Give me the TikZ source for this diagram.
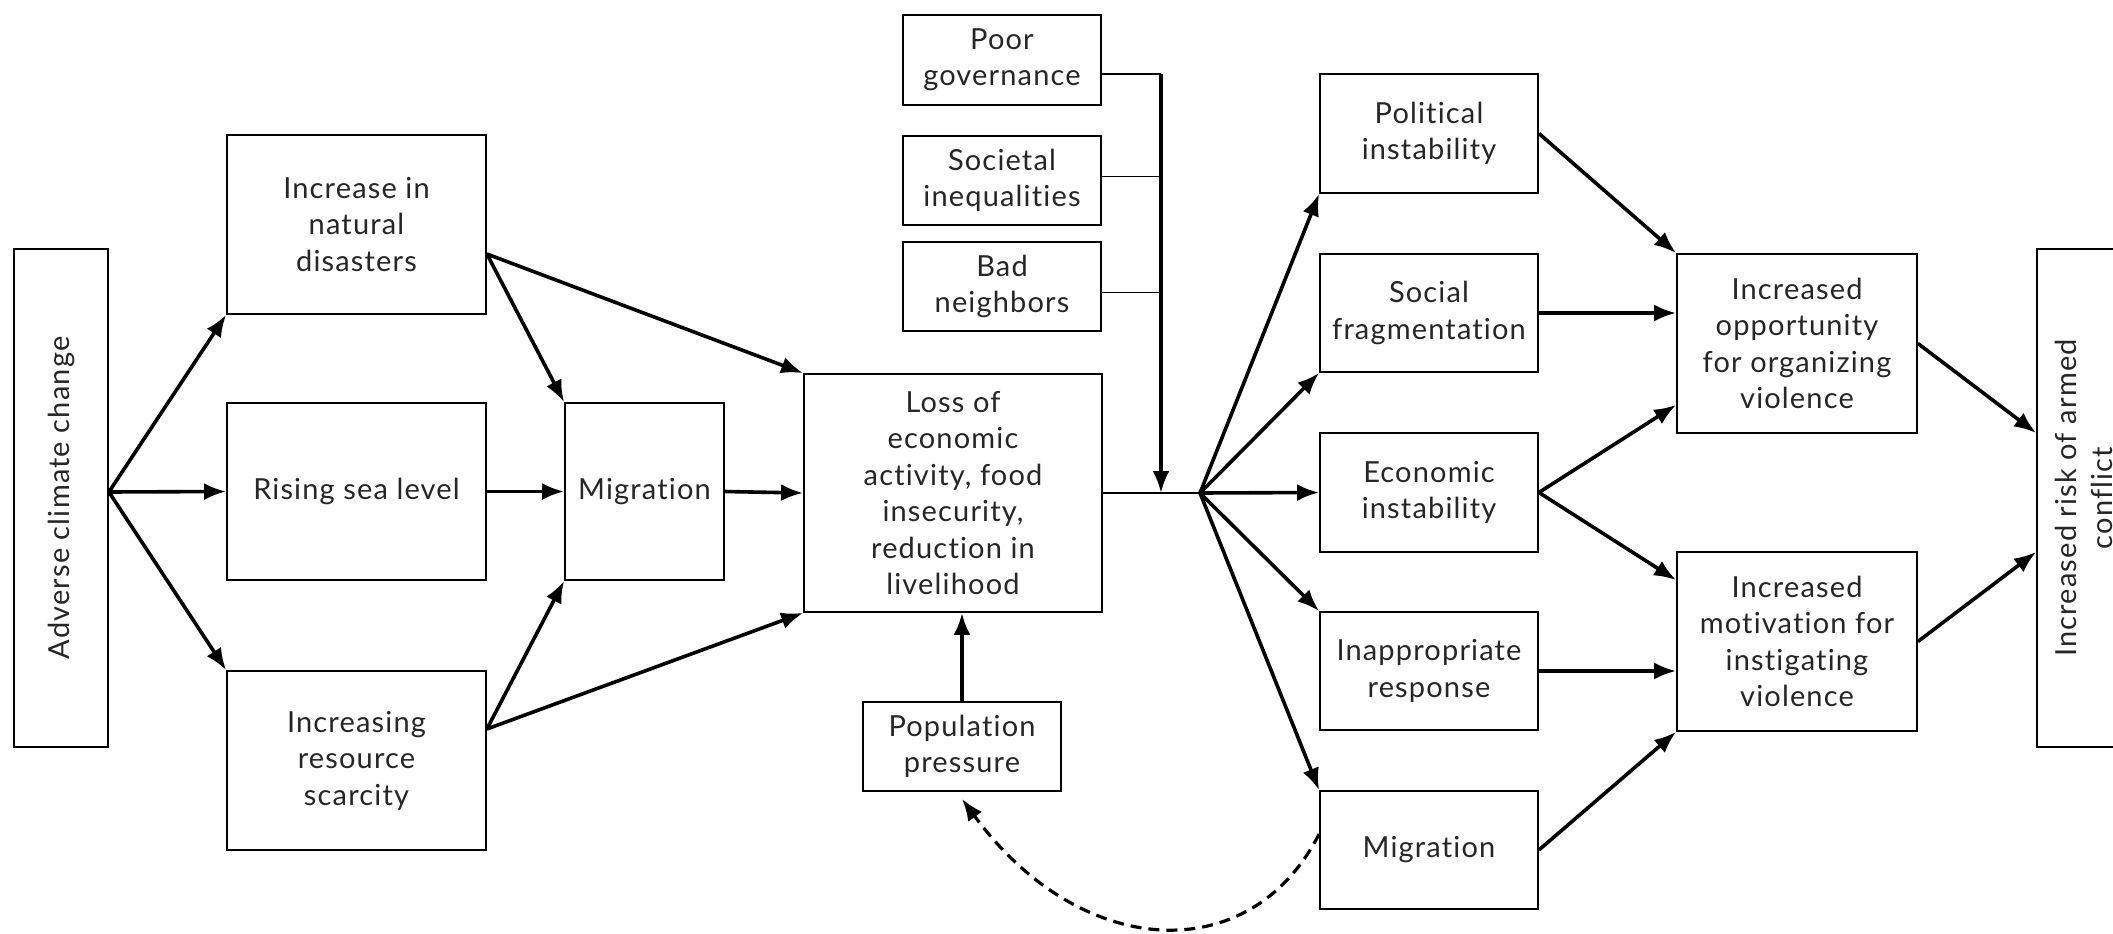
\documentclass[tikz,border=0pt]{standalone}
\usepackage{fontspec}
\setmainfont{Lato}[LetterSpace=4, Ligatures=NoCommon]
\usetikzlibrary{arrows.meta}
\begin{document}
\begin{tikzpicture}[x=1pt,y=-1pt,
  txt/.style={font=\fontsize{29}{36.5}\selectfont, text=black!85},
  box/.style={txt, draw, line width=1.8pt, align=center, inner sep=0pt},
  arr/.style={line width=3.6pt, -{Latex[length=22pt,width=17pt]}},
  thinline/.style={line width=1.8pt},
  dashedarr/.style={line width=3.2pt, dash pattern=on 11pt off 7pt,
    -{Latex[length=22pt,width=17pt]}}]
\fill[white] (0,0) rectangle (2113,934);
\useasboundingbox (0,0) rectangle (2113,934);

% left column
\node[box, minimum width=94pt, minimum height=498pt] (adv) at (61,498) {};
\node[txt, rotate=90] (advt) at (adv.center) {Adverse climate change};
\node[box, minimum width=259pt, minimum height=179pt] (dis) at (356.5,224.5) {Increase in\\natural\\disasters};
\node[box, minimum width=259pt, minimum height=177pt] (sea) at (356.5,491.5) {Rising sea level};
\node[box, minimum width=259pt, minimum height=179pt] (scar) at (356.5,760.5) {Increasing\\resource\\scarcity};
\node[box, minimum width=159pt, minimum height=177pt] (mig1) at (644.5,491.5) {Migration};

% centre
\node[box, minimum width=298pt, minimum height=238pt] (loss) at (953,493) {Loss of\\economic\\activity, food\\insecurity,\\reduction in\\livelihood};
\node[box, minimum width=198pt, minimum height=90pt] (gov) at (1002,60) {Poor\\governance};
\node[box, minimum width=198pt, minimum height=89pt] (soc) at (1002,180.5) {Societal\\inequalities};
\node[box, minimum width=198pt, minimum height=89pt] (bad) at (1002,286.5) {Bad\\neighbors};
\node[box, minimum width=198pt, minimum height=89pt] (pop) at (962,746.5) {Population\\pressure};

% right columns
\node[box, minimum width=218pt, minimum height=119pt] (pol) at (1429,133.5) {Political\\instability};
\node[box, minimum width=218pt, minimum height=118pt] (socf) at (1429,313) {Social\\fragmentation};
\node[box, minimum width=218pt, minimum height=119pt] (eco) at (1429,492.5) {Economic\\instability};
\node[box, minimum width=218pt, minimum height=118pt] (inap) at (1429,671) {Inappropriate\\response};
\node[box, minimum width=218pt, minimum height=118pt] (mig2) at (1429,850) {Migration};
\node[box, minimum width=240pt, minimum height=179pt] (opp) at (1797,343.5) {Increased\\opportunity\\for organizing\\violence};
\node[box, minimum width=240pt, minimum height=179pt] (mot) at (1797,641.5) {Increased\\motivation for\\instigating\\violence};
\node[box, minimum width=94pt, minimum height=498pt] (risk) at (2084,498) {};
\node[txt, rotate=90, align=center] (riskt) at (risk.center) {Increased risk of armed\\conflict};

% junction points
\coordinate (vtop) at (1161,74);
\coordinate (merge) at (1161,493);
\coordinate (fan) at (1200,493);
\coordinate (src) at ([yshift=6pt]adv.east);

% left arrows
\draw[arr] (src) -- (dis.south west);
\draw[arr] (src) -- (sea.west);
\draw[arr] (src) -- (scar.north west);
\draw[arr] ([yshift=-29.5pt]dis.east) -- (mig1.north west);
\draw[arr] ([yshift=-29.5pt]dis.east) -- (loss.north west);
\draw[arr] (sea.east) -- (mig1.west);
\draw[arr] ([yshift=31.5pt]scar.east) -- (mig1.south west);
\draw[arr] ([yshift=31.5pt]scar.east) -- (loss.south west);
\draw[arr] (mig1.east) -- (loss.west);
\draw[arr] (pop.north) -- (loss.south -| pop.north);

% contextual factors feeding the main path
\draw[thinline] (vtop -| gov.east) -- (vtop);
\draw[thinline] ([yshift=4pt]soc.east) -- ([yshift=4pt]soc.east -| vtop);
\draw[thinline] ([yshift=-6pt]bad.east) -- ([yshift=-6pt]bad.east -| vtop);
\draw[arr] (vtop) -- (merge);
\draw[thinline] (loss.east) -- (fan);

% fan-out
\draw[arr] (fan) -- (pol.south west);
\draw[arr] (fan) -- (socf.south west);
\draw[arr] (fan) -- (eco.west);
\draw[arr] (fan) -- (inap.north west);
\draw[arr] (fan) -- (mig2.north west);

% into the two mechanisms
\draw[arr] (pol.east) -- (opp.north west);
\draw[arr] (socf.east) -- (socf.east -| opp.west);
\draw[arr] (eco.east) -- ([yshift=29pt]opp.south west);
\draw[arr] (eco.east) -- ([yshift=-29pt]mot.north west);
\draw[arr] (inap.east) -- (inap.east -| mot.west);
\draw[arr] (mig2.east) -- (mot.south west);
\draw[arr] (opp.east) -- ([yshift=65pt]risk.west);
\draw[arr] (mot.east) -- ([yshift=-54pt]risk.west);

% feedback loop
\draw[dashedarr] ([yshift=16pt]mig2.west) .. controls (1250,970) and (1080,960) .. ([yshift=-7pt]pop.south);
\end{tikzpicture}
\end{document}
